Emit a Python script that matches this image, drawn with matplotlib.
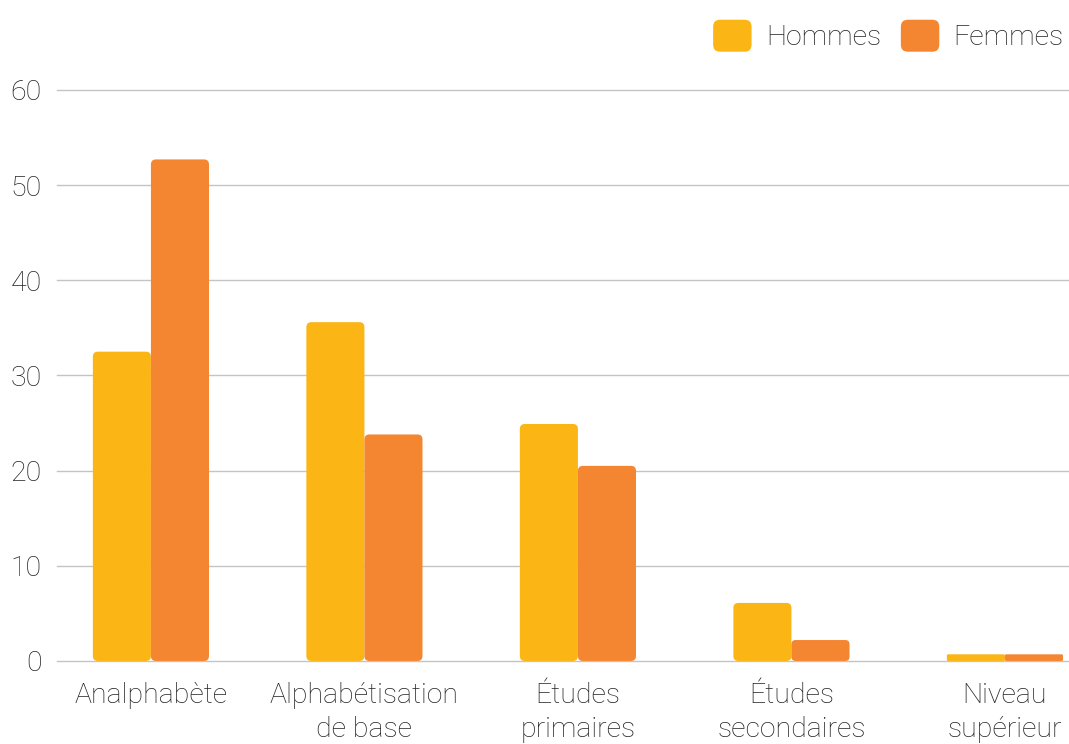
import matplotlib
matplotlib.use("Agg")
import matplotlib.pyplot as plt
import numpy as np
from matplotlib.patches import FancyBboxPatch, Patch
from matplotlib.legend_handler import HandlerPatch

categories = ["Analphabète", "Alphabétisation\nde base", "Études\nprimaires",
              "Études\nsecondaires", "Niveau\nsupérieur"]
hommes = [32.5, 35.6, 24.9, 6.1, 0.7]
femmes = [52.7, 23.8, 20.5, 2.2, 0.7]
yticks = [0, 10, 20, 30, 40, 50, 60]

COL_H = "#FBB615"
COL_F = "#F58631"
TEXT = "#222222"
GRID = "#C4C4C4"

plt.rcParams["font.family"] = ["Roboto", "DejaVu Sans"]
plt.rcParams["font.weight"] = "light"

fig = plt.figure(figsize=(10.69, 7.44), dpi=100)
ax = fig.add_axes([0.0533, 0.1116, 0.9467, 0.7675])

x = np.arange(len(categories))
w = 0.272
bars_h = ax.bar(x - w / 2, hommes, w, color=COL_H)
bars_f = ax.bar(x + w / 2, femmes, w, color=COL_F)

ax.set_xlim(-0.44, 4.30)
ax.set_ylim(0, 60)

# swap the plain rectangles for rounded ones (corner radius in pixels)
fig.canvas.draw()
px_x = ax.transData.transform((1, 0))[0] - ax.transData.transform((0, 0))[0]
px_y = ax.transData.transform((0, 1))[1] - ax.transData.transform((0, 0))[1]
for container in (bars_h, bars_f):
    for rect in container:
        bx, by = rect.get_xy()
        bw, bh = rect.get_width(), rect.get_height()
        r_px = min(5.0, bh * px_y * 0.2)
        rounded = FancyBboxPatch((bx, by), bw, bh,
                                 boxstyle=f"round,pad=0,rounding_size={r_px / px_x}",
                                 mutation_aspect=px_x / px_y,
                                 facecolor=rect.get_facecolor(), edgecolor="none",
                                 zorder=3)
        rect.remove()
        ax.add_patch(rounded)

ax.set_yticks(yticks)
ax.set_xticks(x)
ax.set_xticklabels(categories, linespacing=1.35)
ax.tick_params(axis="both", length=0, labelsize=20.5, colors=TEXT)
ax.tick_params(axis="x", pad=15)
ax.tick_params(axis="y", pad=11)
ax.grid(axis="y", color=GRID, linewidth=1.0, zorder=0)
for line in ax.get_ygridlines():
    line.set_clip_on(False)
ax.set_axisbelow(True)
for side in ax.spines.values():
    side.set_visible(False)


class RoundHandler(HandlerPatch):
    def create_artists(self, legend, orig_handle, xdescent, ydescent,
                       width, height, fontsize, trans):
        p = FancyBboxPatch((-xdescent, -ydescent), width, height,
                           boxstyle="round,pad=0,rounding_size=5",
                           facecolor=orig_handle.get_facecolor(),
                           edgecolor="none", transform=trans)
        return [p]


handles = [Patch(facecolor=COL_H, label="Hommes"),
           Patch(facecolor=COL_F, label="Femmes")]
fig.legend(handles=handles, loc="center right", bbox_to_anchor=(0.995, 0.952),
           ncol=2, frameon=False, fontsize=20.5, labelcolor=TEXT,
           handlelength=1.35, handleheight=1.35, handletextpad=0.5,
           columnspacing=0.7, borderpad=0, borderaxespad=0,
           handler_map={Patch: RoundHandler()})

fig.savefig("out.png", dpi=100)
